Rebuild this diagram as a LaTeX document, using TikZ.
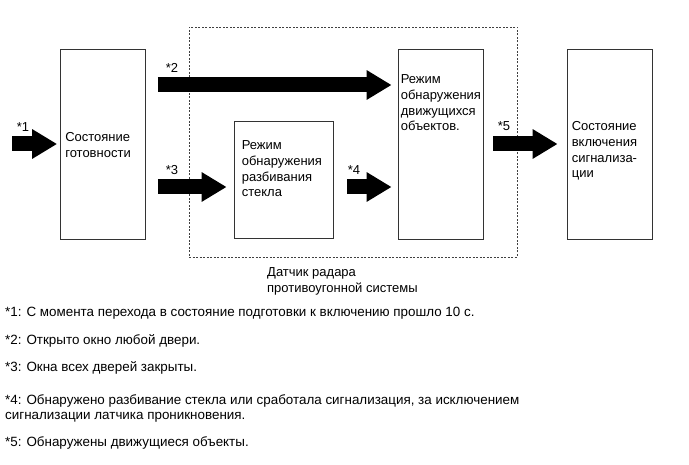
\documentclass[tikz,border=0pt]{standalone}
\usepackage{fontspec}
\setmainfont{Liberation Sans}
\usetikzlibrary{positioning,arrows.meta}

\begin{document}
\begin{tikzpicture}[
    x=1pt, y=-1pt,
    box/.style={draw=black!80, line width=0.8pt, minimum width=85pt, minimum height=190pt, inner sep=0pt},
    txt/.style={anchor=north west, inner sep=0pt, align=left, font=\fontsize{13}{15.7}\selectfont},
    star/.style={inner sep=0pt, font=\fontsize{13}{14}\selectfont},
    blk/.style={line width=15pt, -{Triangle[length=25pt, width=28pt]}},
    note/.style={anchor=north west, inner sep=0pt, align=left, font=\fontsize{13.4}{15}\selectfont}
]
\useasboundingbox (0,0) rectangle (689,465);

% radar sensor frame
\node[draw=black!75, line width=0.8pt, dash pattern=on 2pt off 1.5pt, minimum width=328pt, minimum height=230pt, inner sep=0pt] (radar) at (353,142) {};
\node[txt] (radarlbl) at (267,267.5) {Датчик радара\\противоугонной системы};

% states and modes
\node[box] (ready) at (103,144) {};
\node[box, minimum width=99pt, minimum height=117pt] (glass) at (283.5,179.5) {};
\node[box] (motion) at (440.5,144) {};
\node[box] (alarm) at (609.5,144) {};

\node[txt] (readytxt) at ([shift={(5,84)}]ready.north west) {Состояние\\готовности};
\node[txt] (glasstxt) at ([shift={(8,20)}]glass.north west) {Режим\\обнаружения\\разбивания\\стекла};
\node[txt] (motiontxt) at ([shift={(3,26)}]motion.north west) {Режим\\обнаружения\\движущихся\\объектов.};
\node[txt] (alarmtxt) at ([shift={(5,73)}]alarm.north west) {Состояние\\включения\\сигнализа-\\ции};

% transitions
\coordinate (in1) at (12,144);
\draw[blk, shorten >=3pt] (in1) -- (ready.west);
\draw[blk, shorten <=12pt, shorten >=6pt] ([yshift=59pt]ready.east) -- ([yshift=59pt]motion.west);
\draw[blk, shorten <=12pt, shorten >=7pt] ([yshift=-43pt]ready.east) -- ([yshift=-43pt]ready.east -| glass.west);
\draw[blk, shorten <=14pt, shorten >=6pt] ([yshift=-7.5pt]glass.east) -- ([yshift=-7.5pt]glass.east -| motion.west);
\draw[blk, shorten <=10pt, shorten >=9pt] (motion.east) -- (alarm.west);

\node[star] (s1) at (23,127) {*1};
\node[star] (s2) at (172,68) {*2};
\node[star] (s3) at (172,170) {*3};
\node[star] (s4) at (354,170) {*4};
\node[star] (s5) at (504,126) {*5};

% notes
\node[note] (n1) at (5,306.5) {*1: С момента перехода в состояние подготовки к включению прошло 10 с.};
\node[note] (n2) at (5,334.5) {*2: Открыто окно любой двери.};
\node[note] (n3) at (5,361.5) {*3: Окна всех дверей закрыты.};
\node[note] (n4) at (5,394.5) {*4: Обнаружено разбивание стекла или сработала сигнализация, за исключением\\сигнализации латчика проникновения.};
\node[note] (n5) at (5,436.5) {*5: Обнаружены движущиеся объекты.};

\end{tikzpicture}
\end{document}
